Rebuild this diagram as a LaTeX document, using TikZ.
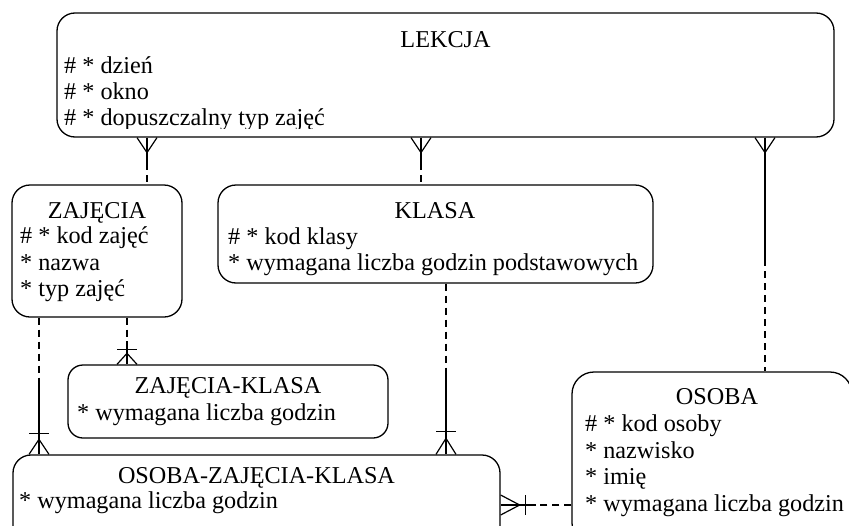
\documentclass[tikz,border=0pt]{standalone}
\usepackage{fontspec}
\setmainfont{Liberation Serif}
\usetikzlibrary{calc}
\begin{document}
\begin{tikzpicture}[x=1pt,y=-1pt,
  entity/.style={draw, line width=1.3pt, rounded corners=18pt, inner sep=0pt},
  ttl/.style={anchor=base, inner sep=0pt, font=\fontsize{24.2}{26}\selectfont},
  attr/.style={anchor=base west, inner sep=0pt, font=\fontsize{24.2}{26}\selectfont},
  rel/.style={line width=1.2pt},
  opt/.style={rel, dash pattern=on 7pt off 5pt},
  crowv/.pic={\draw[rel] (-10,0) -- (0,#1) -- (10,0);},
  barv/.pic={\draw[rel] (-10,#1) -- (10,#1);},
  crowh/.pic={\draw[rel] (0,-10) -- (#1,0) -- (0,10);},
  barh/.pic={\draw[rel] (#1,-10) -- (#1,10);},
]
\useasboundingbox (0,0) rectangle (849,525);
\clip (0,0) rectangle (849,525);

% entities
\node[entity, minimum width=777pt, minimum height=124pt] (lekcja) at (445.5,75) {};
\node[entity, minimum width=170pt, minimum height=132pt] (zaj) at (97,251) {};
\node[entity, minimum width=435pt, minimum height=98pt] (klasa) at (435.5,234) {};
\node[entity, minimum width=320pt, minimum height=73pt, rounded corners=15pt] (zk) at (228,401.5) {};
\node[entity, minimum width=487pt, minimum height=90pt] (ozk) at (256.5,500) {};
\node[entity, minimum width=280pt, minimum height=173pt, rounded corners=22pt] (osoba) at (712,458.5) {};

% texts
\node[ttl] (tlek) at (445.5,47) {LEKCJA};
\node[attr] (l1) at (64,73) {\# * dzień};
\node[attr] (l2) at (64,99) {\# * okno};
\begin{scope}
\clip (0,0) rectangle (849,128);
\node[attr] (l3) at (64,125) {\# * dopuszczalny typ zajęć};
\end{scope}

\node[ttl] (tzaj) at (97,218) {ZAJĘCIA};
\node[attr] (z1) at (20,243) {\# * kod zajęć};
\node[attr] (z2) at (20,270) {* nazwa};
\node[attr] (z3) at (20,296) {* typ zajęć};

\node[ttl] (tkl) at (435,218) {KLASA};
\node[attr] (k1) at (228,244) {\# * kod klasy};
\node[attr] (k2) at (228,270) {* wymagana liczba godzin podstawowych};

\node[ttl] (tzk) at (228,393) {ZAJĘCIA-KLASA};
\node[attr] (zk1) at (77,420) {* wymagana liczba godzin};

\node[ttl] (tozk) at (256.5,483) {OSOBA-ZAJĘCIA-KLASA};
\node[attr] (ozk1) at (19,508) {* wymagana liczba godzin};

\node[ttl] (tos) at (717,404) {OSOBA};
\node[attr] (o1) at (585,431) {\# * kod osoby};
\node[attr] (o2) at (585,458) {* nazwisko};
\node[attr] (o3) at (585,484) {* imię};
\node[attr] (o4) at (585,511) {* wymagana liczba godzin};

% connector positions
\coordinate (xa) at (147,0);
\coordinate (xb) at (421,0);
\coordinate (xc) at (765,0);
\coordinate (xd) at (39,0);
\coordinate (xe) at (127,0);
\coordinate (xf) at (446,0);
\coordinate (yg) at (0,505);

% LEKCJA - ZAJECIA
\draw[rel] (lekcja.south -| xa) -- ($(lekcja.south -| xa)!.55!(zaj.north -| xa)$);
\draw[opt] ($(lekcja.south -| xa)!.55!(zaj.north -| xa)$) -- (zaj.north -| xa);
\path (lekcja.south -| xa) pic{crowv=15};

% LEKCJA - KLASA
\draw[rel] (lekcja.south -| xb) -- ($(lekcja.south -| xb)!.55!(klasa.north -| xb)$);
\draw[opt] ($(lekcja.south -| xb)!.55!(klasa.north -| xb)$) -- (klasa.north -| xb);
\path (lekcja.south -| xb) pic{crowv=15};

% LEKCJA - OSOBA
\draw[rel] (lekcja.south -| xc) -- ($(lekcja.south -| xc)!.52!(osoba.north -| xc)$);
\draw[opt] ($(lekcja.south -| xc)!.52!(osoba.north -| xc)$) -- (osoba.north -| xc);
\path (lekcja.south -| xc) pic{crowv=15};

% ZAJECIA - OSOBA-ZAJECIA-KLASA
\draw[opt] (zaj.south -| xd) -- ($(zaj.south -| xd)!.46!(ozk.north -| xd)$);
\draw[rel] ($(zaj.south -| xd)!.46!(ozk.north -| xd)$) -- (ozk.north -| xd);
\path (ozk.north -| xd) pic{crowv=-15} pic{barv=-21};

% ZAJECIA - ZAJECIA-KLASA
\draw[opt] (zaj.south -| xe) -- ($(zaj.south -| xe)!.5!(zk.north -| xe)$);
\draw[rel] ($(zaj.south -| xe)!.5!(zk.north -| xe)$) -- (zk.north -| xe);
\path (zk.north -| xe) pic{crowv=-11} pic{barv=-15};

% KLASA - OSOBA-ZAJECIA-KLASA
\draw[opt] (klasa.south -| xf) -- ($(klasa.south -| xf)!.5!(ozk.north -| xf)$);
\draw[rel] ($(klasa.south -| xf)!.5!(ozk.north -| xf)$) -- (ozk.north -| xf);
\path (ozk.north -| xf) pic{crowv=-16} pic{barv=-23};

% OSOBA - OSOBA-ZAJECIA-KLASA
\draw[opt] (osoba.west |- yg) -- ($(osoba.west |- yg)!.5!(ozk.east |- yg)$);
\draw[rel] ($(osoba.west |- yg)!.5!(ozk.east |- yg)$) -- (ozk.east |- yg);
\path (ozk.east |- yg) pic{crowh=19} pic{barh=25};
\end{tikzpicture}
\end{document}
